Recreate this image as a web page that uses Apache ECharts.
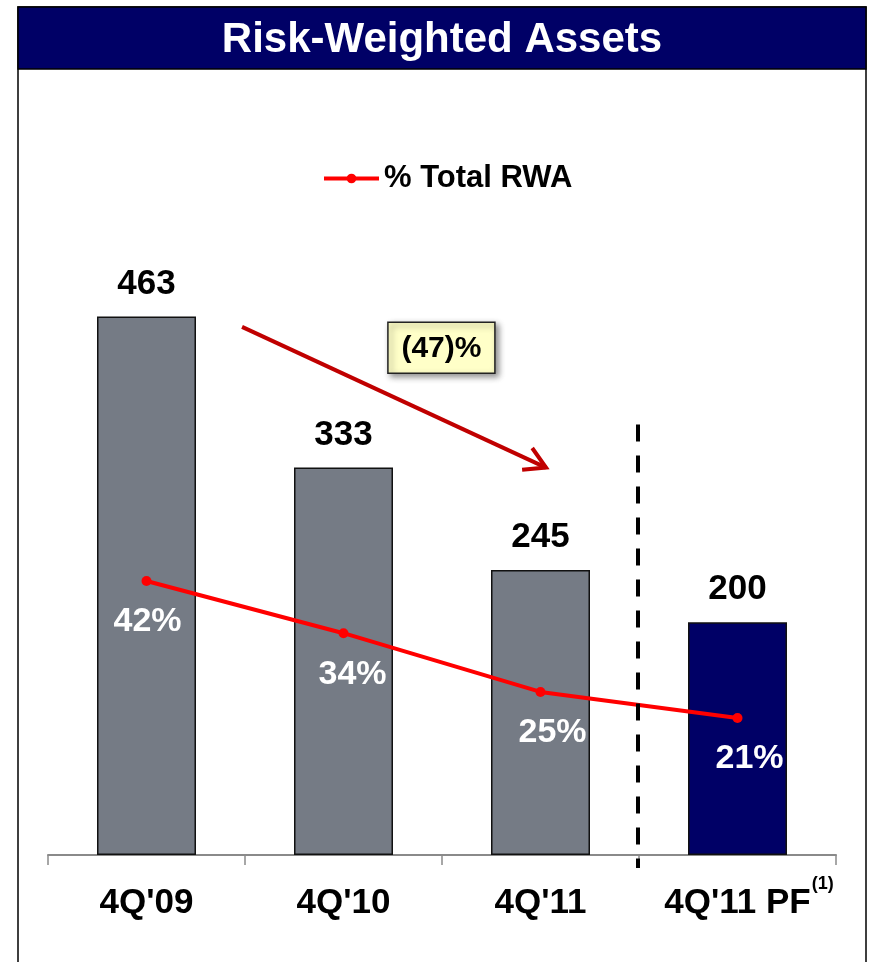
<!DOCTYPE html>
<html>
<head>
<meta charset="utf-8">
<script src="https://cdn.jsdelivr.net/npm/echarts@6/dist/echarts.min.js"></script>
<style>
  html, body { margin: 0; padding: 0; background: #ffffff; }
  #chart { width: 869px; height: 962px; }
</style>
</head>
<body>
<div id="chart"></div>
<script>
// ---- data ----
const categories = ["4Q'09", "4Q'10", "4Q'11", "4Q'11 PF"];
const footnoteMark = "(1)";
const rwaValues = [463, 333, 245, 200];
const pctTotalRwa = [42, 34, 25, 21];
const changeLabel = "(47)%";
const chartTitle = "Risk-Weighted Assets";
const seriesNames = ["RWA", "% Total RWA"];

// ---- styles ----
const FONT = "'Liberation Sans', Arial, sans-serif";
const barColors = ['#757B85', '#757B85', '#757B85', '#000066'];
const pctLabelOffsets = [[1, 0], [9, 0], [12, 0], [12, 0]];
const CAT_FONT_SIZE = 35;

const chart = echarts.init(document.getElementById('chart'), null, { renderer: 'canvas' });

const option = {
  animation: false,
  backgroundColor: '#ffffff',
  textStyle: { fontFamily: FONT },
  legend: {
    data: [seriesNames[1]],
    left: 322,
    top: 163,
    padding: 0,
    itemWidth: 55,
    itemHeight: 12,
    itemGap: 10,
    lineStyle: { width: 4, color: '#FF0000' },
    textStyle: { fontFamily: FONT, fontSize: 31, fontWeight: 'bold', color: '#000', padding: [0, 0, 0, 0] }
  },
  grid: { left: 48, right: 33, top: 157, bottom: 107, containLabel: false },
  xAxis: {
    type: 'category',
    data: categories,
    axisLine: { lineStyle: { color: '#8a8a8a', width: 2 } },
    axisTick: { show: true, length: 10, lineStyle: { color: '#8a8a8a', width: 1.5 } },
    axisLabel: {
      interval: 0,
      margin: 31,
      color: '#000',
      fontFamily: FONT,
      fontSize: CAT_FONT_SIZE,
      fontWeight: 'bold'
    }
  },
  yAxis: [
    { type: 'value', min: 0, max: 600, show: false, splitLine: { show: false } },
    { type: 'value', min: 0, max: 107, show: false, splitLine: { show: false } }
  ],
  series: [
    {
      name: seriesNames[0],
      type: 'bar',
      barWidth: 99,
      yAxisIndex: 0,
      data: rwaValues.map((v, i) => ({ value: v, itemStyle: { color: barColors[i] } })),
      itemStyle: { borderColor: '#111', borderWidth: 1.5 },
      label: {
        show: true,
        position: 'top',
        distance: 15,
        color: '#000',
        fontFamily: FONT,
        fontSize: 35,
        fontWeight: 'bold'
      },
      z: 2
    },
    {
      name: seriesNames[1],
      type: 'line',
      yAxisIndex: 1,
      data: pctTotalRwa.map((v, i) => ({ value: v, label: { offset: pctLabelOffsets[i] } })),
      symbol: 'circle',
      symbolSize: 10,
      lineStyle: { color: '#FF0000', width: 4 },
      itemStyle: { color: '#FF0000' },
      label: {
        show: true,
        position: 'bottom',
        distance: 19,
        color: '#ffffff',
        fontFamily: FONT,
        fontSize: 34,
        fontWeight: 'bold',
        formatter: p => p.value + '%'
      },
      z: 5
    }
  ]
};
chart.setOption(option);

// ---- annotations anchored to the axes ----
const xc0 = chart.convertToPixel({ xAxisIndex: 0 }, 0);
const xc1 = chart.convertToPixel({ xAxisIndex: 0 }, 1);
const bw = xc1 - xc0;
const px = c => xc0 + c * bw;
const py = v => chart.convertToPixel({ yAxisIndex: 0 }, v);

// arrow
const ax1 = px(0.485), ay1 = py(454);
const ax2 = px(2.028), ay2 = py(333);
const ang = Math.atan2(ay2 - ay1, ax2 - ax1);
const headLen = 24, headAng = Math.PI / 6;
const h1 = [ax2 - headLen * Math.cos(ang - headAng), ay2 - headLen * Math.sin(ang - headAng)];
const h2 = [ax2 - headLen * Math.cos(ang + headAng), ay2 - headLen * Math.sin(ang + headAng)];

// box
const bcx = px(1.497), bcy = py(436);
const bwid = 107, bhgt = 51;

// separator
const sepX = px(2.5) - 1;

// footnote mark after last category label
const ctx = document.createElement('canvas').getContext('2d');
ctx.font = 'bold ' + CAT_FONT_SIZE + 'px ' + FONT;
const lastW = ctx.measureText(categories[3]).width;
const fnX = px(3) + lastW / 2 + 1;
const fnY = py(0) + 20;

chart.setOption({
  graphic: [
    // outer frame
    { type: 'rect', shape: { x: 18, y: 7, width: 848, height: 960 }, style: { fill: 'none', stroke: '#000', lineWidth: 1.5 }, z: 0, silent: true },
    // title bar
    { type: 'rect', shape: { x: 18, y: 7, width: 848, height: 62 }, style: { fill: '#000066', stroke: '#000', lineWidth: 1.5 }, z: 1, silent: true },
    { type: 'text', x: 442, y: 40, style: { text: chartTitle, fill: '#ffffff', font: 'bold 42px ' + FONT, align: 'center', verticalAlign: 'middle' }, z: 2, silent: true },
    // dashed separator
    { type: 'line', shape: { x1: sepX, y1: py(370), x2: sepX, y2: py(0) + 13 }, style: { stroke: '#000', lineWidth: 4, lineDash: [17, 14] }, z: 10, silent: true },
    // arrow
    { type: 'line', shape: { x1: ax1, y1: ay1, x2: ax2, y2: ay2 }, style: { stroke: '#C00000', lineWidth: 4 }, z: 10, silent: true },
    { type: 'polyline', shape: { points: [h1, [ax2, ay2], h2] }, style: { stroke: '#C00000', lineWidth: 4, fill: 'none' }, z: 10, silent: true },
    // change box
    { type: 'rect', shape: { x: bcx - bwid / 2, y: bcy - bhgt / 2, width: bwid, height: bhgt }, style: { fill: '#FFFFC8', stroke: '#222', lineWidth: 1.5, shadowBlur: 6, shadowOffsetX: 3, shadowOffsetY: 3, shadowColor: 'rgba(0,0,0,0.45)' }, z: 11, silent: true },
    { type: 'text', x: bcx, y: bcy + 1, style: { text: changeLabel, fill: '#000', font: 'bold 30px ' + FONT, align: 'center', verticalAlign: 'middle' }, z: 12, silent: true },
    // footnote mark
    { type: 'text', x: fnX, y: fnY, style: { text: footnoteMark, fill: '#000', font: 'bold 18px ' + FONT, align: 'left', verticalAlign: 'top' }, z: 12, silent: true }
  ]
});
</script>
</body>
</html>
